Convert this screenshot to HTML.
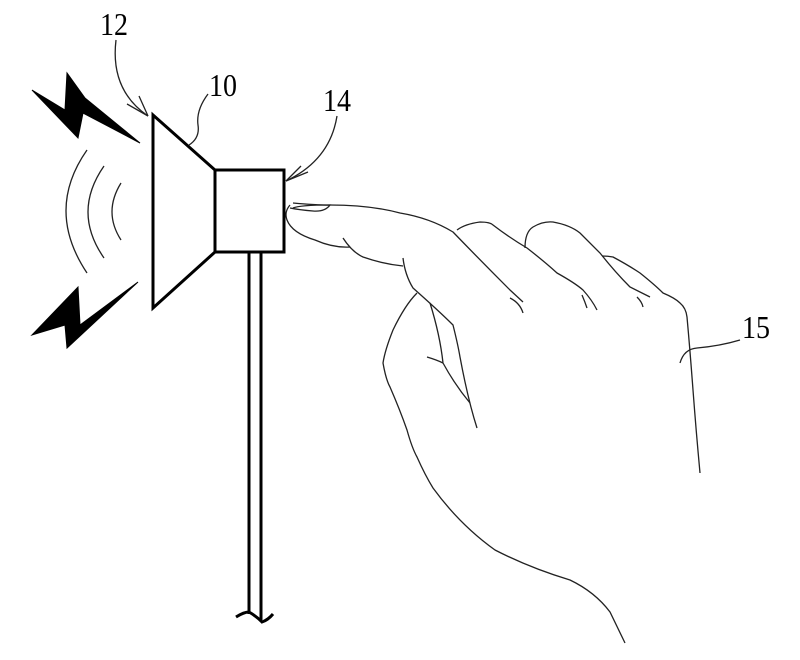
<!DOCTYPE html>
<html><head><style>body{margin:0;background:#fff}svg{display:block}</style></head>
<body>
<svg width="800" height="660" viewBox="0 0 800 660" xmlns="http://www.w3.org/2000/svg">
<g font-family="Liberation Serif, serif" font-size="32" fill="#000">
<text x="100" y="35" textLength="28" lengthAdjust="spacingAndGlyphs">12</text>
<text x="209" y="96" textLength="28" lengthAdjust="spacingAndGlyphs">10</text>
<text x="323" y="111" textLength="28" lengthAdjust="spacingAndGlyphs">14</text>
<text x="742" y="338" textLength="28" lengthAdjust="spacingAndGlyphs">15</text>
</g>
<g fill="none" stroke="#000" stroke-width="3">
<polygon points="153,115 215,170 215,252 153,308"/>
<rect x="215" y="170" width="69" height="82"/>
<line x1="249" y1="252" x2="249" y2="614"/>
<line x1="261" y1="252" x2="261" y2="620"/>
<path d="M236,617 Q244,612 249,612 Q256,616 262,622 Q268,620 273,614"/>
</g>
<g fill="#000" stroke="#000" stroke-width="1">
<polygon points="32,90 65,110 67,73 85,98 140,143 83,113 78,138"/>
<polygon points="32,335 78,287 80,325 138,282 67,348 65,325"/>
</g>
<g fill="none" stroke="#222" stroke-width="1.3">
<path d="M87,150 Q45,210 87,273"/>
<path d="M104,166 Q72,212 104,258"/>
<path d="M121,183 Q103,212 121,240"/>
<path d="M116,40 Q110,90 148,116"/>
<path d="M148,116 L127,104 M148,116 L139,96"/>
<path d="M208,94 Q196,110 198,125 Q200,138 189,145"/>
<path d="M337,116 Q330,160 286,181"/>
<path d="M286,181 L301,166 M286,181 L308,172"/>
<path d="M680,363 Q684,349 697,348 Q720,346 740,340"/>
<path d="M293,203 Q315,205 330,205 Q370,205 400,213 Q430,218 453,232 Q480,260 510,290 L523,302"/>
<path d="M293,208 Q300,205 330,205 Q325,212 313,211 Q300,210 290,208"/>
<path d="M290,205 Q284,212 287,220 Q292,233 315,240 Q333,248 350,247"/>
<path d="M343,238 Q352,252 363,257 Q383,264 403,266"/>
<path d="M403,258 Q405,275 413,288 Q440,312 453,325 Q458,345 460,357 Q468,400 477,428"/>
<path d="M417,293 Q405,305 393,330 Q385,350 383,363 Q386,380 390,387 Q400,410 407,430 Q412,448 417,457 Q425,475 433,488 Q460,525 495,550 Q530,568 570,580 Q595,592 610,612 L625,643"/>
<path d="M430,303 Q440,335 443,363 Q455,385 470,403"/>
<path d="M427,357 Q437,360 443,363"/>
<path d="M457,230 Q465,224 480,222 Q490,222 493,225 Q510,238 527,248 Q545,262 557,273 Q575,283 583,290 Q592,300 597,310"/>
<path d="M510,298 Q520,303 523,313"/>
<path d="M582,295 Q585,302 587,308"/>
<path d="M525,248 Q525,232 533,227 Q543,221 553,222 Q570,225 580,233 Q592,245 600,253 Q615,272 630,287 L650,297"/>
<path d="M637,297 Q642,302 643,307"/>
<path d="M602,256 Q608,256 613,257 Q628,265 640,273 Q655,285 663,293 Q675,298 680,303 Q686,308 687,317 Q690,350 693,390 Q696,430 700,473"/>
</g>
</svg>
</body></html>
